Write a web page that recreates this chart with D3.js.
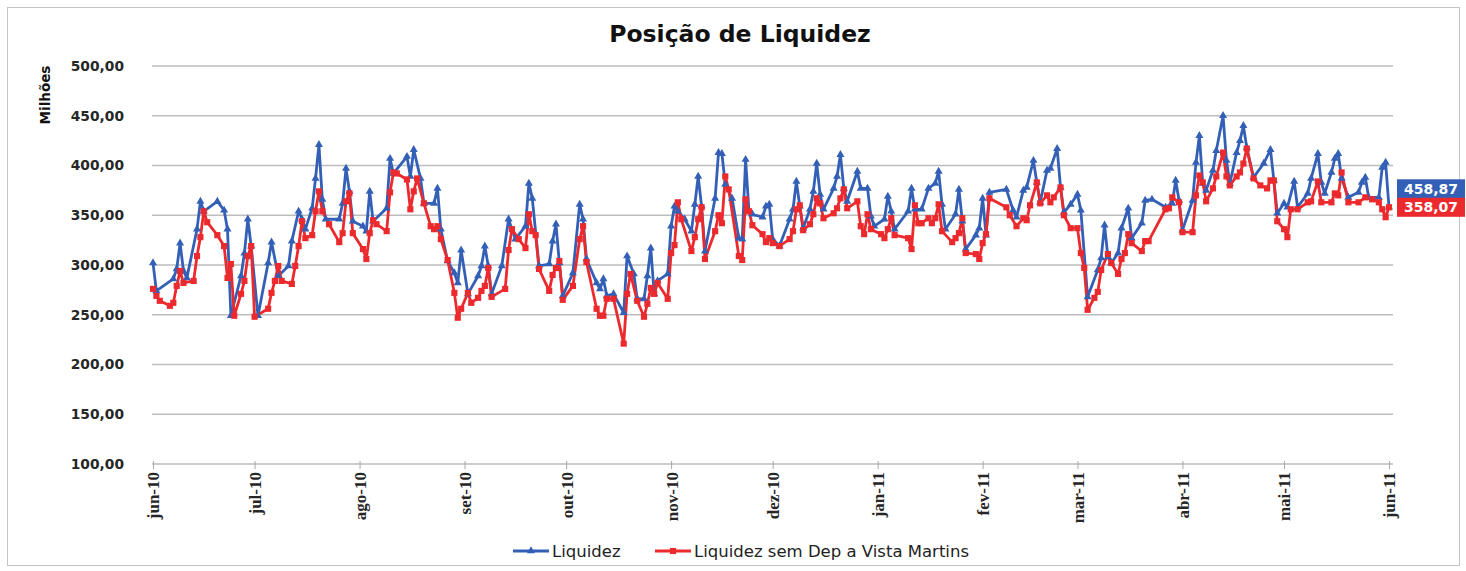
<!DOCTYPE html>
<html><head><meta charset="utf-8">
<script src="https://cdn.jsdelivr.net/npm/d3@7"></script>
<style>body{margin:0;background:#fff}</style>
</head><body>
<svg id="c" width="1466" height="571"></svg>
<script>
const titulo = "Posição de Liquidez";
const rotuloY = "Milhões";
const nomesSeries = ["Liquidez", "Liquidez sem Dep a Vista Martins"];
const rotulosMeses = ["jun-10","jul-10","ago-10","set-10","out-10","nov-10","dez-10","jan-11","fev-11","mar-11","abr-11","mai-11","jun-11"];
const ticksY = [100,150,200,250,300,350,400,450,500];
const rotulosFinais = ["458,87","358,07"];
// days since 2010-06-01
const diasLiquidez = [0,1,6,7,8,9,10,13,14,15,19,21,22,23,26,27,28,29,31,34,35,37,40,41,43,44,45,47,48,49,50,51,55,56,57,58,59,62,63,64,65,69,70,71,75,76,77,79,80,83,84,85,87,89,90,91,93,96,97,98,99,100,103,105,107,110,111,112,114,117,118,119,120,121,124,126,127,128,131,132,133,134,136,139,140,142,143,145,146,147,148,149,152,153,154,155,157,159,160,161,162,163,166,167,168,169,171,173,174,175,176,177,180,181,182,183,185,188,189,190,191,192,194,195,196,197,198,201,202,203,204,205,208,209,211,212,213,216,217,218,219,223,224,225,227,229,231,232,233,234,237,238,239,240,243,244,245,246,247,252,254,255,257,258,260,261,262,264,265,267,268,269,271,273,274,276,279,280,281,282,283,285,286,288,289,292,293,295,299,301,302,303,304,307,308,309,310,311,313,314,316,317,318,320,321,322,323,325,328,330,331,332,334,335,337,338,341,342,344,345,346,348,349,350,351,353,356,357,358,359,362,363,364,365];
const valoresLiquidez = [302,274,286,296,322,294,287,336,364,354,364,355,336,249,289,312,346,319,249,302,323,289,299,324,354,346,336,357,387,421,366,346,346,362,397,374,344,339,334,374,344,357,407,392,409,389,416,387,362,362,377,336,304,292,282,315,271,289,299,319,299,271,299,346,326,339,382,367,299,301,324,341,302,269,292,361,346,306,282,276,286,269,271,252,309,291,266,266,289,317,271,284,291,339,359,354,346,334,361,389,359,314,367,413,412,381,367,327,326,406,354,351,348,359,361,326,319,346,356,384,359,337,356,374,402,371,356,377,389,411,377,364,394,377,377,349,339,346,369,354,336,354,377,356,356,377,382,394,361,336,351,376,344,316,330,337,367,330,373,376,355,348,375,378,405,383,363,395,397,417,378,353,361,371,355,268,295,307,340,308,302,312,337,357,327,342,365,366,358,362,385,365,335,365,403,430,382,375,395,415,450,405,382,413,425,440,418,388,402,416,385,352,362,358,384,358,372,387,412,383,372,393,407,412,387,368,373,383,388,368,368,398,403,358];
const diasSemDep = [0,1,2,5,6,7,8,9,12,13,14,15,16,19,21,22,23,24,26,27,28,29,30,34,35,36,37,38,41,42,43,44,45,47,48,49,50,52,55,56,57,58,59,62,63,64,65,66,69,70,71,72,75,76,77,78,80,82,83,84,85,87,89,90,91,93,94,96,97,98,99,100,104,105,106,108,110,111,112,113,114,117,118,119,120,121,124,126,127,128,131,132,133,134,136,139,140,141,143,145,146,147,148,149,152,153,154,155,156,159,160,161,162,163,166,167,168,169,170,173,174,175,176,177,180,181,182,183,185,188,189,190,191,192,194,195,196,197,198,201,202,203,204,205,208,209,210,211,212,215,216,217,218,219,223,224,225,226,227,229,230,231,232,233,236,237,238,239,240,243,244,245,246,247,252,253,255,257,258,259,261,262,264,265,266,268,269,271,273,274,275,276,278,279,280,282,283,285,286,287,288,289,292,293,294,299,300,301,303,304,307,308,309,310,311,313,314,316,317,318,320,321,322,323,325,327,329,330,331,332,334,335,336,338,341,342,344,345,348,349,350,351,353,356,358,360,362,363,364,365];
const valoresSemDep = [276,269,264,259,262,279,294,282,284,309,328,354,343,330,319,287,301,249,271,284,309,319,248,256,272,284,299,284,281,299,319,344,327,330,354,374,354,341,323,332,364,372,332,316,306,332,345,341,334,373,393,392,386,356,374,387,362,339,336,339,326,305,272,247,256,272,262,267,274,279,297,268,276,315,336,326,317,351,334,330,296,274,290,297,304,265,279,326,339,303,256,249,249,266,266,221,271,291,264,248,261,277,271,282,266,312,320,363,346,314,328,346,358,306,334,350,342,389,376,309,305,366,354,340,331,323,327,322,319,326,334,356,360,335,341,351,367,362,347,352,357,367,376,357,364,339,331,351,336,331,327,336,347,330,327,316,360,342,342,347,342,347,361,334,323,327,332,347,312,311,306,322,331,367,358,350,339,347,345,360,383,362,370,363,368,378,350,337,337,312,297,255,267,273,295,311,302,291,306,312,331,322,314,324,324,356,357,368,363,333,333,370,390,383,364,377,389,413,389,380,389,393,402,417,387,380,377,385,385,344,336,328,356,356,363,364,384,363,363,372,370,393,363,363,368,366,363,356,348,358];

const inicio = new Date(2010, 5, 1);
const fim = new Date(2011, 5, 1);
const dia = d => d3.timeDay.offset(inicio, d);
const serieA = diasLiquidez.map((d, i) => ({ data: dia(d), v: valoresLiquidez[i] }));
const serieB = diasSemDep.map((d, i) => ({ data: dia(d), v: valoresSemDep[i] }));
const meses = d3.timeMonth.range(inicio, d3.timeDay.offset(fim, 1));

const AZUL = "#3360b6", VERMELHO = "#ec2a2e";
const svg = d3.select("#c");
const W = 1466, H = 571;

svg.append("rect").attr("x", 7.5).attr("y", 7.5).attr("width", W - 14).attr("height", H - 13)
  .attr("fill", "#fff").attr("stroke", "#c4c4c4").attr("stroke-width", 1);

const x = d3.scaleTime().domain([inicio, fim]).range([153, 1389]);
const y = d3.scaleLinear().domain([100, 500]).range([464, 66]);
const fmt = d3.formatLocale({ decimal: ",", thousands: ".", grouping: [3], currency: ["R$", ""] }).format(".2f");

// gridlines
svg.append("g").selectAll("line").data(ticksY.filter(t => t > 100)).join("line")
  .attr("x1", 152).attr("x2", 1393).attr("y1", d => y(d)).attr("y2", d => y(d))
  .attr("stroke", "#bdbdbd").attr("stroke-width", 1.6);

// y axis labels
const gy = svg.append("g").attr("transform", "translate(124,0)")
  .call(d3.axisLeft(y).tickValues(ticksY).tickSize(0).tickPadding(0).tickFormat(fmt));
gy.select(".domain").remove();
gy.selectAll("text").attr("font-family", "DejaVu Sans").attr("font-weight", "bold")
  .attr("font-size", 13.8).attr("fill", "#262626");

// x axis
const gx = svg.append("g").attr("transform", "translate(0,464)")
  .call(d3.axisBottom(x).tickValues(meses).tickSize(5).tickFormat((d, i) => rotulosMeses[i]));
gx.select(".domain").attr("d", "M152,0H1393").attr("stroke", "#bdbdbd").attr("stroke-width", 1.6);
gx.selectAll(".tick line").attr("stroke", "#a8a8a8").attr("y1", -3).attr("y2", 5);
gx.selectAll("text").attr("font-family", "Liberation Serif").attr("font-weight", "bold")
  .attr("font-size", 17).attr("fill", "#262626")
  .attr("transform", "rotate(-90)").attr("text-anchor", "end")
  .attr("x", -8).attr("y", 0).attr("dy", "0.35em");

// lines
const linha = d3.line().x(d => x(d.data)).y(d => y(d.v));
svg.append("path").datum(serieA).attr("d", linha).attr("fill", "none")
  .attr("stroke", AZUL).attr("stroke-width", 2.8).attr("stroke-linejoin", "round");
svg.append("path").datum(serieB).attr("d", linha).attr("fill", "none")
  .attr("stroke", VERMELHO).attr("stroke-width", 2.8).attr("stroke-linejoin", "round");

const tri = d3.symbol(d3.symbolTriangle, 28)();
const sq = d3.symbol(d3.symbolSquare, 38)();
svg.append("g").selectAll("path").data(serieA).join("path")
  .attr("d", tri).attr("transform", d => `translate(${x(d.data)},${y(d.v)})`).attr("fill", AZUL);
svg.append("g").selectAll("path").data(serieB).join("path")
  .attr("d", sq).attr("transform", d => `translate(${x(d.data)},${y(d.v)})`).attr("fill", VERMELHO);

// end labels
const ultimoB = serieB[serieB.length - 1];
const yR = y(ultimoB.v);
const etiquetas = [
  { t: rotulosFinais[0], c: AZUL, cy: yR - 18.5 },
  { t: rotulosFinais[1], c: VERMELHO, cy: yR }
];
const ge = svg.append("g");
etiquetas.forEach(e => {
  ge.append("rect").attr("x", 1397).attr("y", e.cy - 9.5).attr("width", 68).attr("height", 19).attr("fill", e.c);
  ge.append("text").attr("x", 1431).attr("y", e.cy).attr("dy", "0.36em").attr("text-anchor", "middle")
    .attr("font-family", "DejaVu Sans").attr("font-weight", "bold").attr("font-size", 14)
    .attr("fill", "#fff").text(e.t);
});

// title
svg.append("text").attr("x", 740).attr("y", 42).attr("text-anchor", "middle")
  .attr("font-family", "DejaVu Sans").attr("font-weight", "bold").attr("font-size", 23.5)
  .attr("fill", "#111").text(titulo);

// y label
svg.append("text").attr("transform", "translate(45,95) rotate(-90)").attr("text-anchor", "middle")
  .attr("dy", "0.35em").attr("font-family", "DejaVu Sans").attr("font-weight", "bold")
  .attr("font-size", 13.5).attr("fill", "#111").text(rotuloY);

// legend
const leg = svg.append("g");
const itens = [
  { nome: nomesSeries[0], c: AZUL, s: tri, x0: 513 },
  { nome: nomesSeries[1], c: VERMELHO, s: sq, x0: 655 }
];
itens.forEach(it => {
  leg.append("line").attr("x1", it.x0).attr("x2", it.x0 + 36).attr("y1", 551).attr("y2", 551)
    .attr("stroke", it.c).attr("stroke-width", 2.8);
  leg.append("path").attr("d", it.s).attr("transform", `translate(${it.x0 + 18},551)`).attr("fill", it.c);
  leg.append("text").attr("x", it.x0 + 39).attr("y", 551).attr("dy", "0.35em")
    .attr("font-family", "DejaVu Sans").attr("font-size", 16.5).attr("fill", "#222").text(it.nome);
});
</script>
</body></html>
